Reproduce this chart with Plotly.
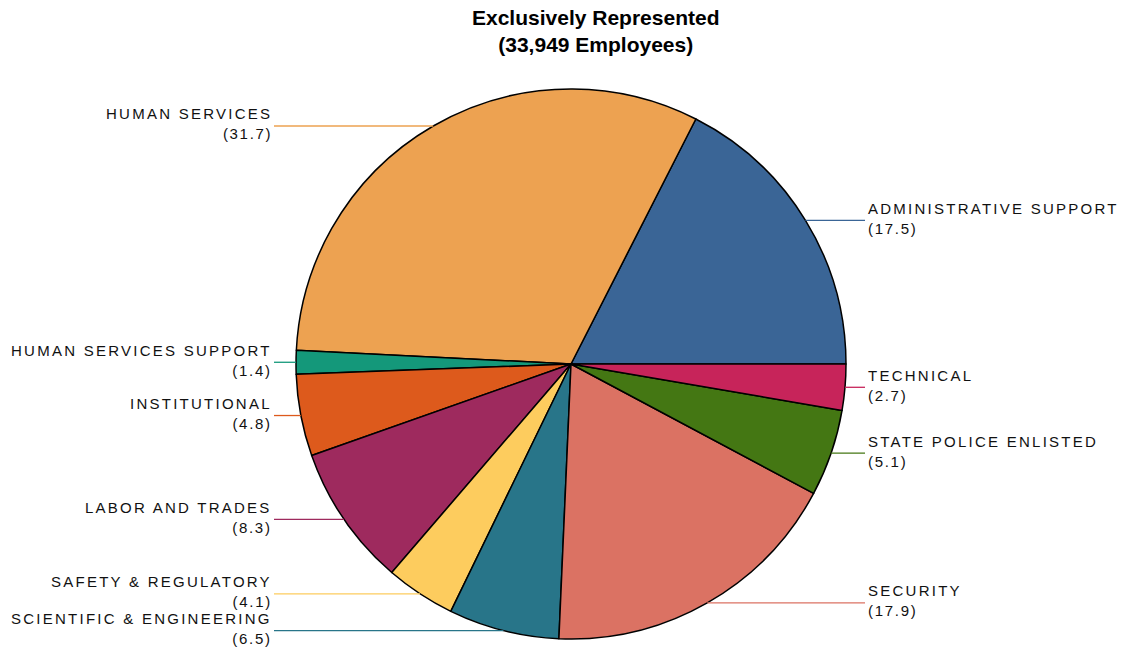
import math
import plotly.graph_objects as go

categories = ["ADMINISTRATIVE SUPPORT", "HUMAN SERVICES", "HUMAN SERVICES SUPPORT",
              "INSTITUTIONAL", "LABOR AND TRADES", "SAFETY & REGULATORY",
              "SCIENTIFIC & ENGINEERING", "SECURITY", "STATE POLICE ENLISTED", "TECHNICAL"]
values = [17.5, 31.7, 1.4, 4.8, 8.3, 4.1, 6.5, 17.9, 5.1, 2.7]
colors = ["#3A6596", "#EDA251", "#14987A", "#DD5A1C", "#9E2A5E",
          "#FDCC5E", "#287589", "#DB7263", "#447713", "#C7245A"]
title_lines = ["Exclusively Represented", "(33,949 Employees)"]

W, H = 1122, 657


def px(x):
    return x / W


def py(y):
    return 1 - y / H


cx, cy, r = 571, 364, 275
left_text_x, left_line_x = 274, 274
right_text_x, right_line_x = 866, 865

total = sum(values)
rotation = 90 - 360 * values[0] / total

fig = go.Figure(go.Pie(
    labels=categories, values=values, sort=False,
    direction="counterclockwise", rotation=rotation,
    marker=dict(colors=colors, line=dict(color="#000000", width=1.5)),
    textinfo="none", hoverinfo="label+value", showlegend=False,
    domain=dict(x=[px(cx - r), px(cx + r)], y=[py(cy + r), py(cy - r)]),
))

cum = 0.0
annotations = []
shapes = []
for lab, v, col in zip(categories, values, colors):
    mid = (cum + v / 2) / total * 2 * math.pi
    cum += v
    ex = cx + r * math.cos(mid)
    ey = cy - r * math.sin(mid)
    right = math.cos(mid) > 0
    if right:
        x0, x1, tx, anchor = ex, right_line_x, right_text_x, "left"
    else:
        x0, x1, tx, anchor = left_line_x, ex, left_text_x, "right"
    shapes.append(dict(type="line", xref="paper", yref="paper",
                       x0=px(x0), x1=px(x1), y0=py(ey), y1=py(ey),
                       line=dict(color=col, width=1.3)))
    annotations.append(dict(
        x=px(tx), y=py(ey - 2), xref="paper", yref="paper",
        xanchor=anchor, yanchor="middle", align=anchor, showarrow=False,
        text='<span style="letter-spacing:2.25px">%s</span><br><span style="letter-spacing:1.7px">(%.1f)</span>' % (lab.replace("&", "&amp;"), v),
        font=dict(family="Liberation Sans, Arial, sans-serif", size=15, color="#111111"),
    ))

annotations.append(dict(
    x=px(595), y=py(31), xref="paper", yref="paper", xanchor="center", yanchor="middle",
    showarrow=False, text="<b>" + "<br>".join(title_lines) + "</b>",
    font=dict(family="Liberation Sans, Arial, sans-serif", size=21, color="#000000"),
))

fig.update_layout(
    width=W, height=H, margin=dict(l=0, r=0, t=0, b=0),
    paper_bgcolor="#FFFFFF", plot_bgcolor="#FFFFFF",
    annotations=annotations, shapes=shapes,
)
fig.write_html("out.html", config={"displayModeBar": False},
               post_script="document.body.style.margin='0';")
